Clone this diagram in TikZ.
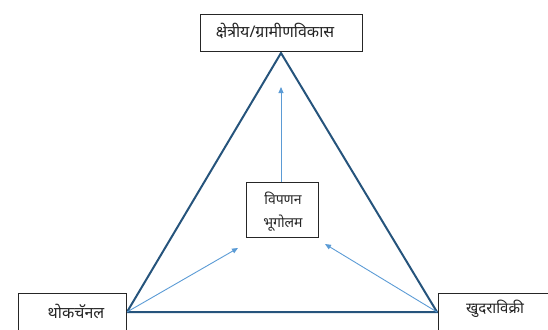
\documentclass[tikz,border=0pt]{standalone}
\usepackage{fontspec}
\newfontfamily\deva[Script=Devanagari]{Noto Sans}
\usetikzlibrary{arrows.meta}
\begin{document}
\begin{tikzpicture}[x=1pt,y=-1pt,
  boxstyle/.style={draw=black!85,line width=1pt,fill=white,inner sep=0pt},
  lbl/.style={font=\deva\fontsize{14}{16}\selectfont,text=black!85,inner sep=0pt},
  biglbl/.style={lbl,font=\deva\fontsize{16}{18}\selectfont},
  arr/.style={line width=0.9pt,-{Triangle[length=6pt,width=5pt]}}]
\useasboundingbox (0,0) rectangle (548,329);
\coordinate (A) at (281,53);
\coordinate (B) at (127,312);
\coordinate (C) at (437,312);
\draw[line width=2pt,line join=miter,color={rgb,255:red,38;green,84;blue,124}] (A) -- (B) -- (C) -- cycle;
\node[boxstyle,minimum width=162,minimum height=37] (top) at (281,33) {};
\node[biglbl] (toptxt) at (275,31) {क्षेत्रीय/ग्रामीणविकास};
\node[boxstyle,minimum width=72,minimum height=55] (mid) at (282,209.5) {};
\node[lbl] (mid1) at (283,198) {विपणन};
\node[lbl] (mid2) at (283,223) {भूगोलम};
\node[boxstyle,minimum width=108,minimum height=50,anchor=north west] (bl) at (18,293) {};
\node[biglbl] (bltxt) at (76,311) {थोकचॅनल};
\node[boxstyle,minimum width=110,minimum height=50,anchor=north west] (br) at (438,293) {};
\node[lbl,font=\deva\fontsize{15}{17}\selectfont] (brtxt) at (495,309) {खुदराविक्री};
\coordinate (t1) at (281,87);
\coordinate (t2) at (238,248);
\coordinate (t3) at (325,244);
\draw[arr,color={rgb,255:red,91;green,155;blue,213}] (mid.north -| t1) -- (t1);
\draw[arr,color={rgb,255:red,91;green,155;blue,213}] (B) -- (t2);
\draw[arr,color={rgb,255:red,91;green,155;blue,213}] (C) -- (t3);
\end{tikzpicture}
\end{document}
